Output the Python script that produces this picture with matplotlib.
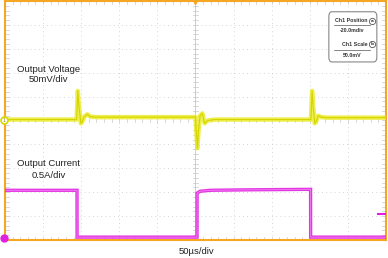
import matplotlib
matplotlib.use("Agg")
import matplotlib.pyplot as plt
from matplotlib.patches import FancyBboxPatch
import numpy as np

# scope settings
T_DIV = 50.0      # us/div
V_DIV = 50.0      # mV/div
I_DIV = 0.5       # A/div
N_DIV = 10

# Ch1 output voltage, (time us, mV) around the reference level
v_t = [0, 94, 95.5, 97, 99.5, 101, 104, 108, 112, 120, 250,
       251, 252.5, 254, 256, 259, 262, 266, 275, 401.5,
       403, 404.5, 406.5, 408, 411, 415, 422, 500]
v_mv = [2, 2, 62, 30, -6, -4, 8, 13, 8, 7, 7,
        -20, -58, -20, 10, 15, -6, 0, 2, 2,
        62, 28, -6, -3, 10, 7, 6, 6]

# Ch2 output current, (time us, A)
i_t = [0, 94.5, 94.6, 252, 252.1, 256, 270, 320, 401, 401.1, 500]
i_a = [1.04, 1.04, 0.06, 0.06, 0.98, 1.02, 1.04, 1.05, 1.06, 0.06, 0.06]

fig = plt.figure(figsize=(3.88, 2.58), dpi=100)
ax = fig.add_axes([5/388, 18/258, 381/388, 239/258])
ax.set_xlim(0, N_DIV * T_DIV)
ax.set_ylim(0, N_DIV)
ax.set_xticks([])
ax.set_yticks([])
for s in ax.spines.values():
    s.set_color("#f5a623")
    s.set_linewidth(1.5)

grid_c = "#c8c8c8"
# dotted graticule
for k in range(1, N_DIV):
    ax.axvline(k * T_DIV, color=grid_c, lw=0.6, ls=(0, (1, 4)), zorder=1)
    if k != 5:
        ax.axhline(k, color=grid_c, lw=0.6, ls=(0, (1, 4)), zorder=1)
ax.axvline(5 * T_DIV, color=grid_c, lw=0.6, zorder=1)
# minor ticks on centre lines and borders
for m in np.arange(0, N_DIV, 0.2):
    x = m * T_DIV
    ax.plot([x, x], [5 - 0.08, 5 + 0.08], color=grid_c, lw=0.5, zorder=1)
    ax.plot([x, x], [0, 0.12], color=grid_c, lw=0.5, zorder=1)
    ax.plot([x, x], [N_DIV - 0.12, N_DIV], color=grid_c, lw=0.5, zorder=1)
    ax.plot([5 * T_DIV - 3, 5 * T_DIV + 3], [m, m], color=grid_c, lw=0.5, zorder=1)
    ax.plot([0, 5], [m, m], color=grid_c, lw=0.5, zorder=1)
    ax.plot([495, 500], [m, m], color=grid_c, lw=0.5, zorder=1)

v_div = [5 + v / V_DIV for v in v_mv]
i_div = [a / I_DIV for a in i_a]
ax.plot(v_t, v_div, color="#eaea20", lw=3.2, alpha=0.8, zorder=3)
ax.plot(v_t, v_div, color="#d4d400", lw=0.8, zorder=3)
ax.plot(i_t, i_div, color="#e020e0", lw=2.4, alpha=0.9, zorder=3, solid_joinstyle="miter")
ax.plot(i_t, i_div, color="#f080f0", lw=0.6, zorder=3)

# channel markers
ax.plot([-1], [5], marker="o", ms=5, mfc="white", mec="#d8d800", mew=1.2,
        clip_on=False, zorder=4)
ax.text(-1, 5, "1", ha="center", va="center", fontsize=3.5, color="#888800",
        clip_on=False, zorder=5)
ax.plot([-1], [0.1], marker="o", ms=5, color="#e020e0", clip_on=False, zorder=4)
ax.plot([490, 500], [1.08, 1.08], color="#e020e0", lw=1.5, zorder=4)
ax.plot([5 * T_DIV], [N_DIV], marker="v", ms=4, color="#f5a623", clip_on=False, zorder=4)

txt = dict(ha="center", va="center", fontsize=6.8, family="Liberation Sans", color="#222222")
ax.text(57, 7.15, "Output Voltage", **txt)
ax.text(57, 6.7, "50mV/div", **txt)
ax.text(57, 3.2, "Output Current", **txt)
ax.text(57, 2.7, "0.5A/div", **txt)
fig.text(196/388, 1 - 251/258, "50\u00b5s/div", **txt)

# info box
box = FancyBboxPatch((425, 7.45), 63, 2.1, boxstyle="round,pad=0,rounding_size=4",
                     fc="white", ec="#888888", lw=0.8, zorder=5, mutation_aspect=0.05)
ax.add_patch(box)
sm = dict(ha="right", va="center", fontsize=3.8, family="Liberation Sans",
          weight="bold", color="#333333", zorder=6)
ax.text(476, 9.17, "Ch1 Position", **sm)
ax.text(476, 8.2, "Ch1 Scale", **sm)
ax.text(455, 8.77, "-20.0mdiv", **{**sm, "ha": "center"})
ax.text(455, 7.73, "50.0mV", **{**sm, "ha": "center"})
for yy, ch in [(9.17, "a"), (8.2, "b")]:
    ax.plot([482], [yy], marker="o", ms=4.5, mfc="white", mec="#555555", mew=0.6, zorder=6)
    ax.text(482, yy, ch, ha="center", va="center", fontsize=3, weight="bold",
            color="#333333", zorder=7)
ax.plot([432, 479], [9.0, 9.0], color="#555555", lw=0.5, zorder=6)
ax.plot([432, 479], [7.96, 7.96], color="#555555", lw=0.5, zorder=6)

fig.savefig("out.png", dpi=100)
